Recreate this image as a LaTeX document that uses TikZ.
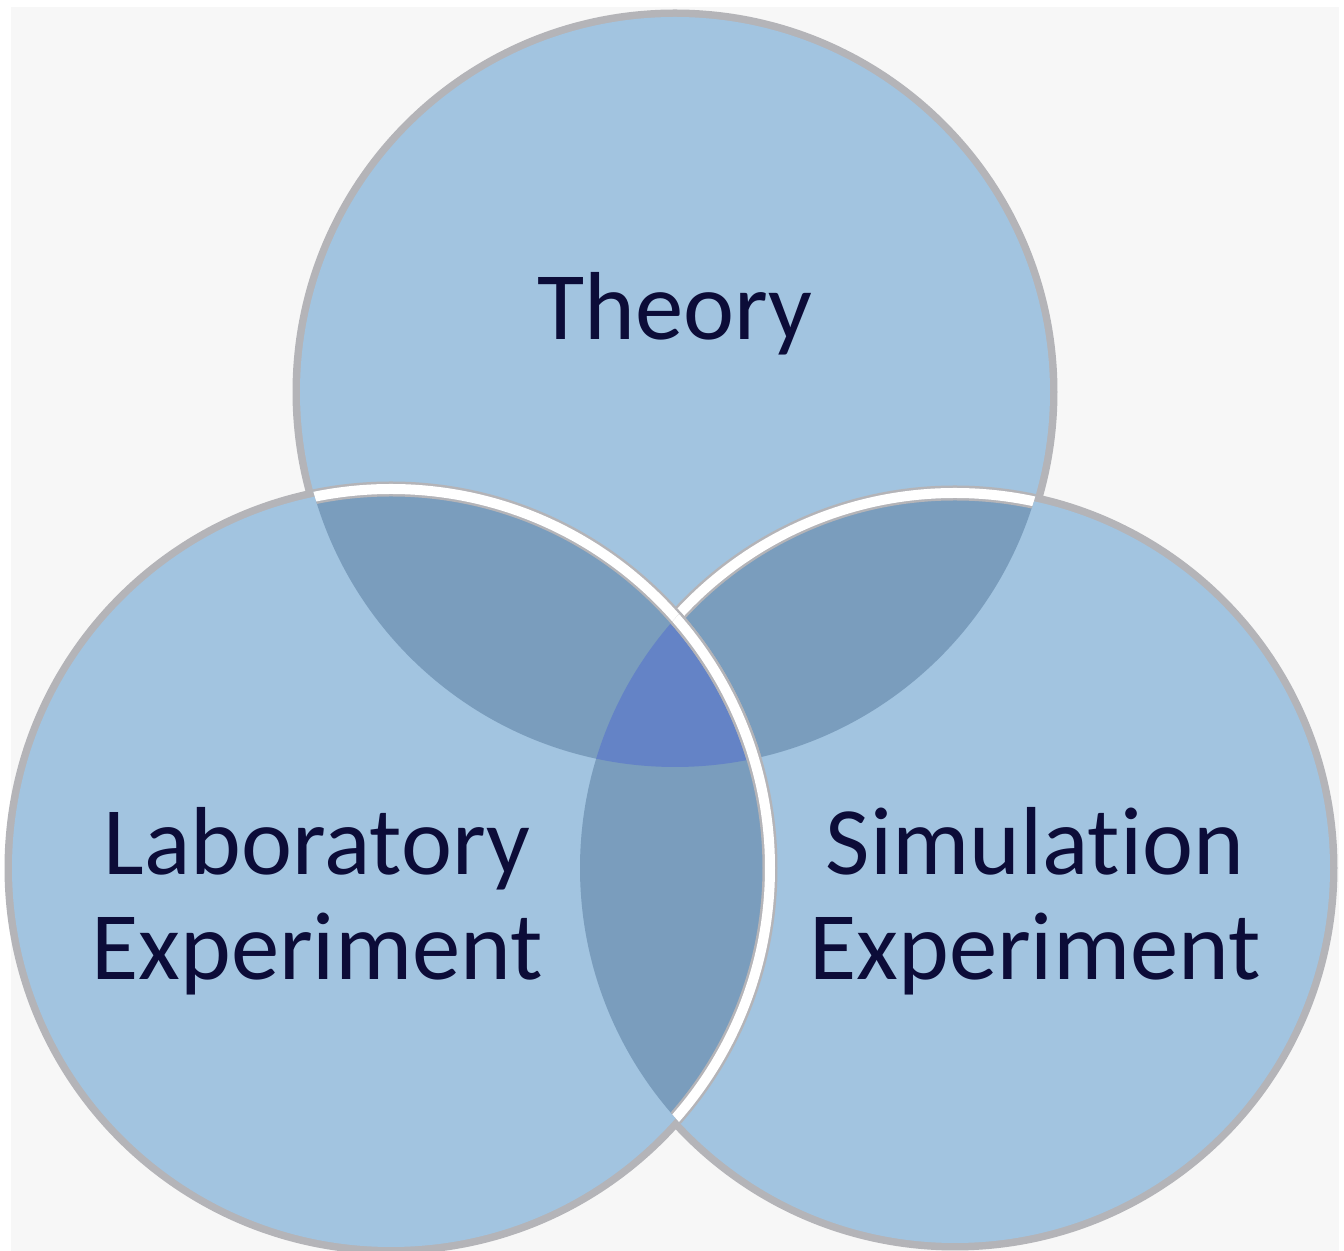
\documentclass[tikz,border=0pt]{standalone}
\usepackage{fontspec}
\setmainfont{Carlito}[Ligatures=NoCommon]
\usepackage{xcolor}
\usetikzlibrary{positioning}

\definecolor{pagebg}{HTML}{F7F7F7}
\definecolor{vennfill}{HTML}{A2C4E0}
\definecolor{lensfill}{HTML}{7A9DBD}
\definecolor{corefill}{HTML}{6483C6}
\definecolor{rimgray}{HTML}{B4B4B8}
\definecolor{labelcol}{HTML}{0C0C38}

\begin{document}
\begin{tikzpicture}[
    x=1cm,y=1cm,
    rim/.style={draw=rimgray, line width=0.15cm},
    edge/.style={draw=white, line width=0.10cm},
    label/.style={font=\fontsize{27.5}{30}\selectfont, text=labelcol, align=center, inner sep=0pt}
]
\useasboundingbox (0,0) rectangle (13.44,-12.51);
\fill[white] (0,0) rectangle (13.44,-12.51);
\fill[pagebg] (0.11,-0.07) rectangle (13.39,-12.51);

% Circle centres
\coordinate (theo) at (6.75,-3.92);
\coordinate (lab) at (3.91,-8.68);
\coordinate (sim) at (9.55,-8.68);
\def\rT{3.75}
\def\rL{3.79}
\def\rS{3.75}

% Outer rims
\path[rim] (theo) circle (\rT);
\path[rim] (sim) circle (\rS);
\path[rim] (lab) circle (\rL);

% Base fills
\fill[vennfill] (theo) circle (\rT);
\fill[vennfill] (sim) circle (\rS);
\fill[vennfill] (lab) circle (\rL);

% Pairwise overlaps
\begin{scope}
  \clip (theo) circle (\rT);
  \fill[lensfill] (lab) circle (\rL);
  \fill[lensfill] (sim) circle (\rS);
\end{scope}
\begin{scope}
  \clip (lab) circle (\rL);
  \fill[lensfill] (sim) circle (\rS);
\end{scope}

% Centre overlap
\begin{scope}
  \clip (theo) circle (\rT);
  \clip (lab) circle (\rL);
  \fill[corefill] (sim) circle (\rS);
\end{scope}

% Inner white borders
\begin{scope}
  \clip (0,0) -- (13.44,0) -- (13.44,-12.51) -- (0,-12.51) -- cycle (lab) circle (\rL);
  \clip (theo) circle (\rT);
  \path[rim] (sim) circle (\rS);
  \path[edge] (sim) circle (\rS);
\end{scope}
\begin{scope}
  \clip (theo) circle (\rT);
  \path[rim] (lab) circle (\rL);
  \path[edge] (lab) circle (\rL);
\end{scope}
\begin{scope}
  \clip (sim) circle (\rS);
  \path[rim] (lab) circle (\rL);
  \path[edge] (lab) circle (\rL);
\end{scope}

% Labels
\node[label, anchor=base] (theory) at (6.75,-3.40) {Theory};
\node[label] (labexp) at (3.17,-9.01) {Laboratory\\Experiment};
\node[label] (simexp) at (10.35,-9.01) {Simulation\\Experiment};
\end{tikzpicture}
\end{document}
